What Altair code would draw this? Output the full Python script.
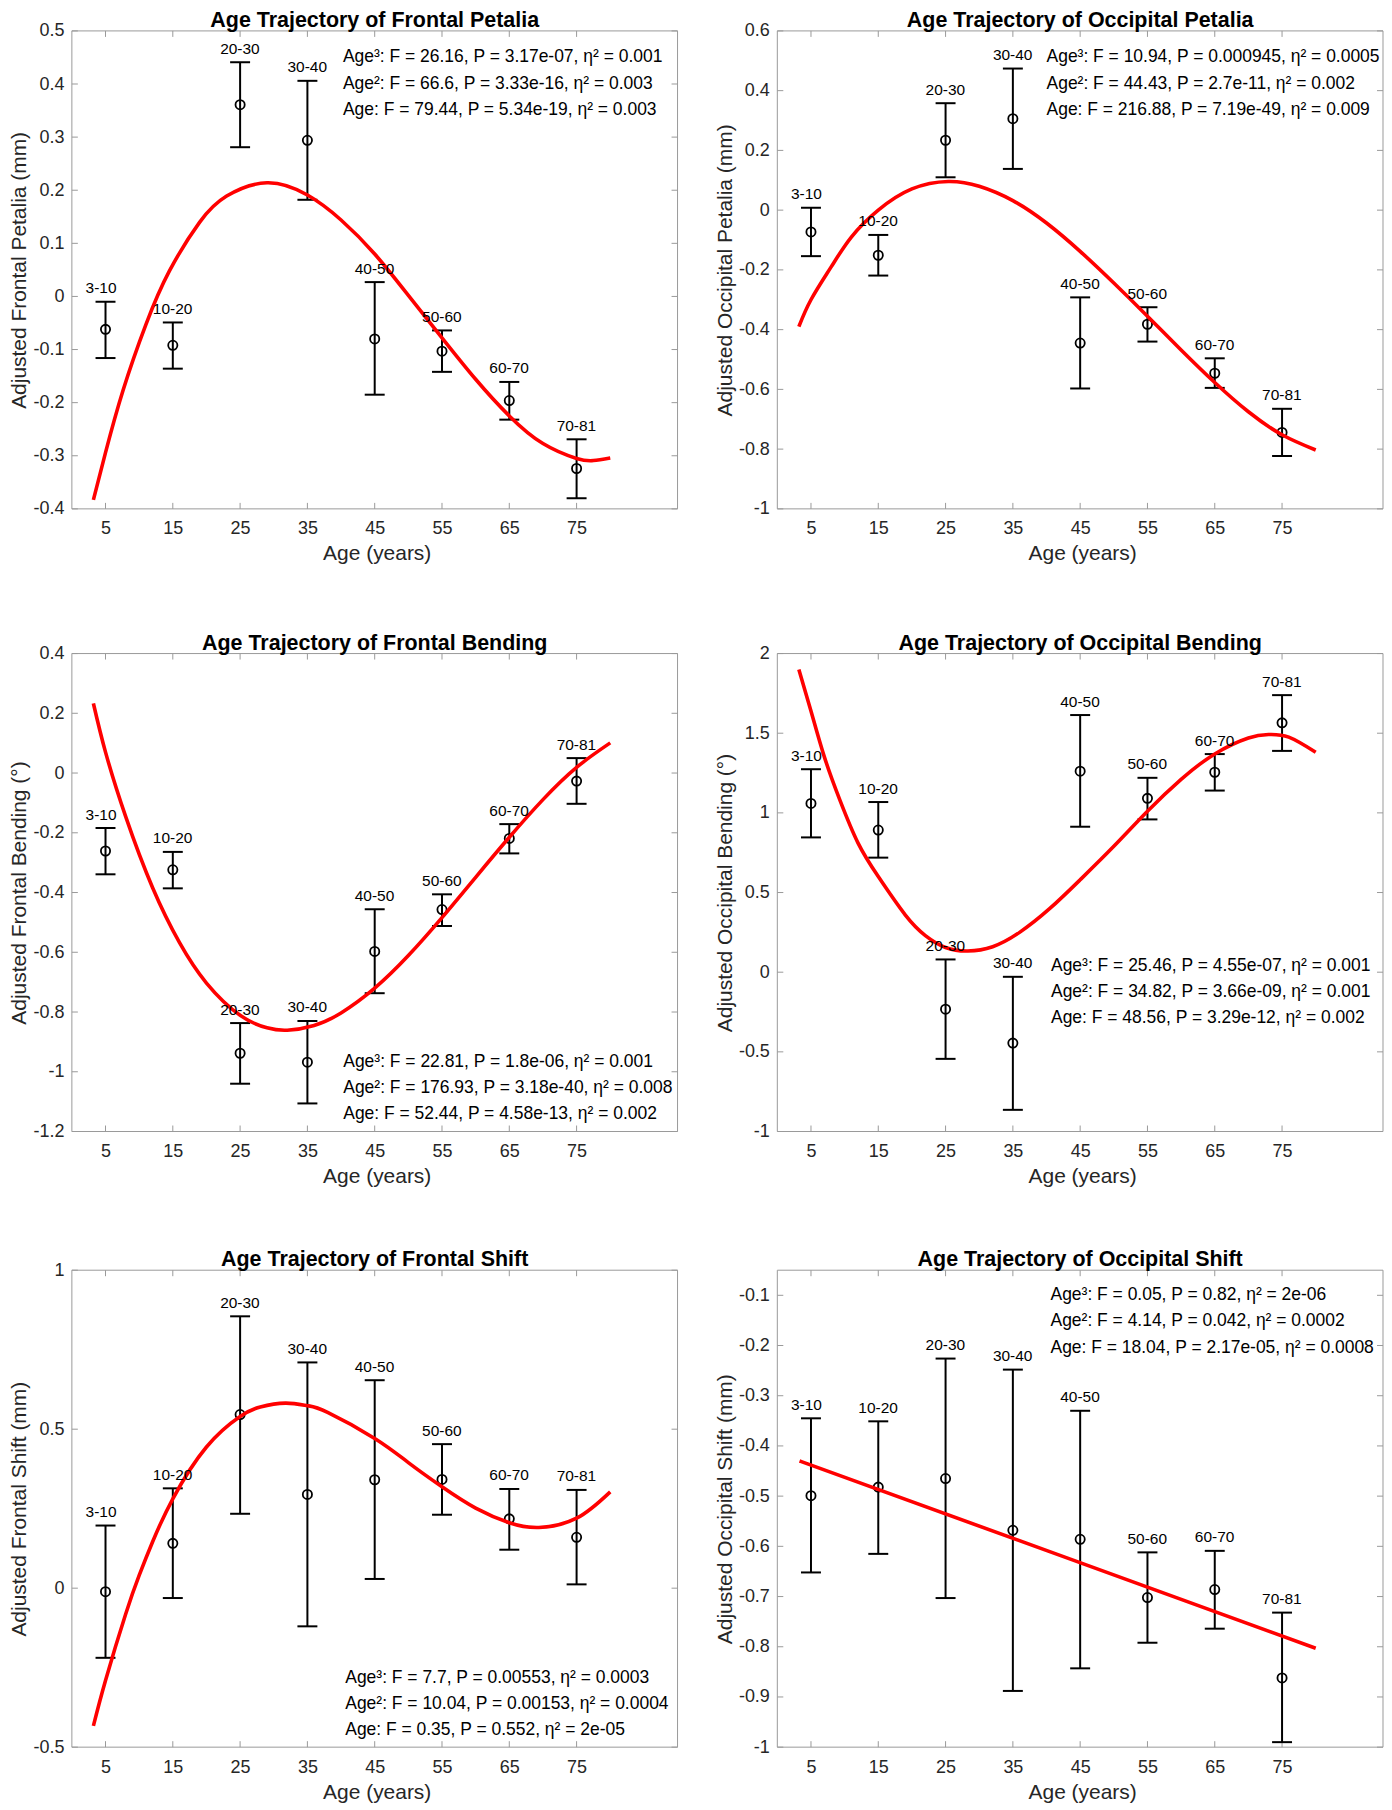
import altair as alt
import pandas as pd

# ---------------- data ----------------
ages = [5, 15, 25, 35, 45, 55, 65, 75]
groups = ["3-10", "10-20", "20-30", "30-40", "40-50", "50-60", "60-70", "70-81"]

# Frontal petalia
fp_mean = [-0.062, -0.092, 0.361, 0.294, -0.080, -0.103, -0.196, -0.324]
fp_lo = [-0.116, -0.136, 0.281, 0.182, -0.185, -0.142, -0.232, -0.380]
fp_hi = [-0.010, -0.049, 0.441, 0.406, 0.027, -0.064, -0.161, -0.269]
fp_cx = [3.2, 5, 7.6, 11, 14.5, 19, 23, 29, 35, 40, 45, 50, 55, 60, 65, 70, 75, 77.5, 80]
fp_cy = [-0.383, -0.294, -0.177, -0.053, 0.048, 0.140, 0.189, 0.214, 0.191, 0.144, 0.080, 0.002,
         -0.078, -0.156, -0.225, -0.277, -0.305, -0.309, -0.304]
fp_ticks = [-0.4, -0.3, -0.2, -0.1, 0, 0.1, 0.2, 0.3, 0.4, 0.5]

# Occipital petalia
op_mean = [-0.073, -0.151, 0.234, 0.306, -0.445, -0.382, -0.546, -0.744]
op_lo = [-0.154, -0.219, 0.110, 0.138, -0.597, -0.440, -0.595, -0.823]
op_hi = [0.008, -0.083, 0.358, 0.474, -0.292, -0.325, -0.496, -0.665]
op_cx = [3.2, 5, 8, 11, 15, 20, 25.4, 30, 35, 40, 45, 50, 55, 60, 65, 70, 75, 80]
op_cy = [-0.39, -0.30, -0.19, -0.09, 0.0, 0.071, 0.096, 0.080, 0.032, -0.043, -0.138, -0.244,
         -0.355, -0.468, -0.577, -0.675, -0.752, -0.803]
op_ticks = [-1, -0.8, -0.6, -0.4, -0.2, 0, 0.2, 0.4, 0.6]

# Frontal bending
fb_mean = [-0.261, -0.324, -0.938, -0.968, -0.597, -0.457, -0.219, -0.027]
fb_lo = [-0.339, -0.386, -1.040, -1.106, -0.737, -0.512, -0.269, -0.103]
fb_hi = [-0.184, -0.264, -0.837, -0.830, -0.456, -0.406, -0.171, 0.050]
fb_cx = [3.2, 5, 8, 12, 16, 20, 25, 29, 32, 36, 40, 45, 50, 55, 60, 65, 70, 75, 80]
fb_cy = [0.233, 0.07, -0.146, -0.384, -0.568, -0.703, -0.811, -0.853, -0.861, -0.845, -0.803,
         -0.720, -0.611, -0.484, -0.349, -0.215, -0.089, 0.019, 0.101]
fb_ticks = [-1.2, -1, -0.8, -0.6, -0.4, -0.2, 0, 0.2, 0.4]

# Occipital bending
ob_mean = [1.059, 0.892, -0.232, -0.445, 1.262, 1.091, 1.255, 1.565]
ob_lo = [0.846, 0.719, -0.544, -0.864, 0.913, 0.959, 1.140, 1.389]
ob_hi = [1.274, 1.068, 0.080, -0.029, 1.614, 1.220, 1.369, 1.739]
ob_cx = [3.2, 5, 7, 9.3, 12, 15, 19, 22, 25, 28.3, 32, 36, 40.5, 45, 50, 55, 60, 65, 70, 73, 76, 80]
ob_cy = [1.90, 1.64, 1.35, 1.08, 0.81, 0.60, 0.36, 0.23, 0.155, 0.133, 0.16, 0.25, 0.40,
         0.58, 0.79, 1.01, 1.21, 1.37, 1.47, 1.492, 1.475, 1.38]
ob_ticks = [-1, -0.5, 0, 0.5, 1, 1.5, 2]

# Frontal shift
fs_mean = [-0.011, 0.141, 0.546, 0.295, 0.341, 0.342, 0.218, 0.160]
fs_lo = [-0.219, -0.031, 0.234, -0.120, 0.029, 0.231, 0.121, 0.012]
fs_hi = [0.197, 0.314, 0.855, 0.710, 0.654, 0.453, 0.312, 0.309]
fs_cx = [3.2, 5, 8, 10, 12, 15, 20, 25, 28, 31.75, 35, 38, 45, 50, 55, 60, 65, 69.4, 75, 80]
fs_cy = [-0.433, -0.29, -0.081, 0.04, 0.146, 0.281, 0.444, 0.540, 0.570, 0.582, 0.574, 0.553,
         0.471, 0.395, 0.319, 0.252, 0.206, 0.191, 0.220, 0.303]
fs_ticks = [-0.5, 0, 0.5, 1]

# Occipital shift
os_mean = [-0.499, -0.482, -0.465, -0.568, -0.586, -0.702, -0.686, -0.862]
os_lo = [-0.652, -0.615, -0.703, -0.888, -0.843, -0.792, -0.764, -0.990]
os_hi = [-0.345, -0.351, -0.226, -0.248, -0.330, -0.612, -0.609, -0.732]
os_cx = [3.3, 41.6, 80]
os_cy = [-0.430, -0.616, -0.803]
os_ticks = [-1, -0.9, -0.8, -0.7, -0.6, -0.5, -0.4, -0.3, -0.2, -0.1]

# ---------------- styling ----------------
FONT = "Liberation Sans"
FRAME = "#9a9a9a"
TXT = "#262626"
W = 607


def panel(title, ytitle, ydom, yticks, mean, lo, hi, cx, cy, stats, sx, sy0, h, tp=0):
    """tp = extra empty pixels above the plot frame inside the cell."""
    pts = pd.DataFrame({"age": ages, "grp": groups, "mean": mean, "lo": lo, "hi": hi})
    crv = pd.DataFrame({"age": cx, "val": cy})
    xt = pd.DataFrame({"age": ages})
    yt = pd.DataFrame({"val": yticks})
    one = pd.DataFrame({"k": [0]})

    y0, y1 = ydom
    ydom_ext = [y0, y1 + tp / h * (y1 - y0)]
    H = h + tp

    xscale = alt.Scale(domain=[0, 90], nice=False, zero=False)
    yscale = alt.Scale(domain=ydom_ext, nice=False, zero=False)
    xaxis = alt.Axis(values=ages, title="Age (years)", grid=False, domain=False, ticks=False,
                     tickSize=0, labelFontSize=18, labelColor=TXT, labelPadding=25,
                     labelBaseline="alphabetic", labelFlush=False, labelOverlap=False,
                     titleFontSize=21, titleFontWeight="normal", titleColor=TXT,
                     titleBaseline="alphabetic", titleX=W / 2 + 2, titleY=51)
    yaxis = alt.Axis(values=yticks, title=ytitle, grid=False, domain=False, ticks=False,
                     tickSize=0, labelFontSize=18, labelColor=TXT, labelPadding=8,
                     labelBaseline="middle", labelFlush=False, labelOverlap=False,
                     labelExpr="toString(round(datum.value*100)/100)",
                     titleFontSize=21, titleFontWeight="normal", titleColor=TXT,
                     titleAngle=270, titleBaseline="alphabetic", titleAlign="center",
                     titleX=-46, titleY=tp + h / 2)

    def X(f):
        return alt.X(f"{f}:Q", scale=xscale, axis=xaxis)

    def Y(f):
        return alt.Y(f"{f}:Q", scale=yscale, axis=yaxis)

    fr = dict(color=FRAME, strokeWidth=1)
    frame = [
        alt.Chart(one).mark_rule(**fr).encode(x=alt.value(0), x2=alt.value(W), y=alt.value(tp), y2=alt.value(tp)),
        alt.Chart(one).mark_rule(**fr).encode(x=alt.value(0), x2=alt.value(W), y=alt.value(H), y2=alt.value(H)),
        alt.Chart(one).mark_rule(**fr).encode(x=alt.value(0), x2=alt.value(0), y=alt.value(tp), y2=alt.value(H)),
        alt.Chart(one).mark_rule(**fr).encode(x=alt.value(W), x2=alt.value(W), y=alt.value(tp), y2=alt.value(H)),
    ]
    xt_b = alt.Chart(xt).mark_rule(**fr).encode(x=X("age"), y=alt.value(H), y2=alt.value(H - 6))
    xt_t = alt.Chart(xt).mark_rule(**fr).encode(x=X("age"), y=alt.value(tp), y2=alt.value(tp + 6))
    yt_l = alt.Chart(yt).mark_rule(**fr).encode(y=Y("val"), x=alt.value(0), x2=alt.value(6))
    yt_r = alt.Chart(yt).mark_rule(**fr).encode(y=Y("val"), x=alt.value(W - 6), x2=alt.value(W))

    bars = alt.Chart(pts).mark_rule(color="black", strokeWidth=2).encode(
        x=X("age"), y=Y("lo"), y2="hi")
    cap_lo = alt.Chart(pts).mark_rule(color="black", strokeWidth=2, xOffset=-10, x2Offset=10).encode(
        x=X("age"), x2="age", y=Y("lo"))
    cap_hi = alt.Chart(pts).mark_rule(color="black", strokeWidth=2, xOffset=-10, x2Offset=10).encode(
        x=X("age"), x2="age", y=Y("hi"))
    circles = alt.Chart(pts).mark_point(shape="circle", size=85, filled=False, color="black",
                                        strokeWidth=1.8, opacity=1).encode(x=X("age"), y=Y("mean"))
    curve = alt.Chart(crv).mark_line(color="#ff0000", strokeWidth=3.6, interpolate="natural").encode(
        x=X("age"), y=Y("val"))
    labels = alt.Chart(pts).mark_text(align="left", baseline="alphabetic", dx=-20, dy=-8.5,
                                      fontSize=15.5, color="black").encode(
        x=X("age"), y=Y("hi"), text="grp:N")

    stat_layers = []
    for i, line in enumerate(stats):
        stat_layers.append(
            alt.Chart(pd.DataFrame({"t": [line]})).mark_text(
                align="left", baseline="alphabetic", fontSize=17.5, color="black").encode(
                x=alt.value(sx), y=alt.value(tp + sy0 + i * 26.3), text="t:N"))

    ttl = alt.Chart(pd.DataFrame({"t": [title]})).mark_text(
        align="center", baseline="alphabetic", fontSize=21.5, fontWeight="bold", color="black").encode(
        x=alt.value(W / 2), y=alt.value(tp - 4), text="t:N")

    return alt.layer(*frame, xt_b, xt_t, yt_l, yt_r, bars, cap_lo, cap_hi, circles, curve, labels,
                     *stat_layers, ttl).properties(width=W, height=H)


p1 = panel("Age Trajectory of Frontal Petalia", "Adjusted Frontal Petalia (mm)", [-0.4, 0.5], fp_ticks,
           fp_mean, fp_lo, fp_hi, fp_cx, fp_cy,
           ["Age³: F = 26.16, P = 3.17e-07, η² = 0.001",
            "Age²: F = 66.6, P = 3.33e-16, η² = 0.003",
            "Age: F = 79.44, P = 5.34e-19, η² = 0.003"], 271.7, 31.6, 479)
p2 = panel("Age Trajectory of Occipital Petalia", "Adjusted Occipital Petalia (mm)", [-1, 0.6], op_ticks,
           op_mean, op_lo, op_hi, op_cx, op_cy,
           ["Age³: F = 10.94, P = 0.000945, η² = 0.0005",
            "Age²: F = 44.43, P = 2.7e-11, η² = 0.002",
            "Age: F = 216.88, P = 7.19e-49, η² = 0.009"], 269.8, 31.6, 479)
p3 = panel("Age Trajectory of Frontal Bending", "Adjusted Frontal Bending (°)", [-1.2, 0.4], fb_ticks,
           fb_mean, fb_lo, fb_hi, fb_cx, fb_cy,
           ["Age³: F = 22.81, P = 1.8e-06, η² = 0.001",
            "Age²: F = 176.93, P = 3.18e-40, η² = 0.008",
            "Age: F = 52.44, P = 4.58e-13, η² = 0.002"], 272, 414, 479, tp=6)
p4 = panel("Age Trajectory of Occipital Bending", "Adjusted Occipital Bending (°)", [-1, 2], ob_ticks,
           ob_mean, ob_lo, ob_hi, ob_cx, ob_cy,
           ["Age³: F = 25.46, P = 4.55e-07, η² = 0.001",
            "Age²: F = 34.82, P = 3.66e-09, η² = 0.001",
            "Age: F = 48.56, P = 3.29e-12, η² = 0.002"], 274.3, 317.9, 479, tp=6)
p5 = panel("Age Trajectory of Frontal Shift", "Adjusted Frontal Shift (mm)", [-0.5, 1], fs_ticks,
           fs_mean, fs_lo, fs_hi, fs_cx, fs_cy,
           ["Age³: F = 7.7, P = 0.00553, η² = 0.0003",
            "Age²: F = 10.04, P = 0.00153, η² = 0.0004",
            "Age: F = 0.35, P = 0.552, η² = 2e-05"], 274, 413.3, 478)
p6 = panel("Age Trajectory of Occipital Shift", "Adjusted Occipital Shift (mm)", [-1, -0.05], os_ticks,
           os_mean, os_lo, os_hi, os_cx, os_cy,
           ["Age³: F = 0.05, P = 0.82, η² = 2e-06",
            "Age²: F = 4.14, P = 0.042, η² = 0.0002",
            "Age: F = 18.04, P = 2.17e-05, η² = 0.0008"], 273.8, 30, 478)

chart = alt.concat(p1, p2, p3, p4, p5, p6, columns=2,
                   spacing={"row": 139, "column": 100},
                   bounds="flush", align="each").properties(padding=0)
chart = chart.configure(font=FONT).configure_view(strokeOpacity=0)

chart.save("out.html", embed_options={"renderer": "svg", "actions": False})
